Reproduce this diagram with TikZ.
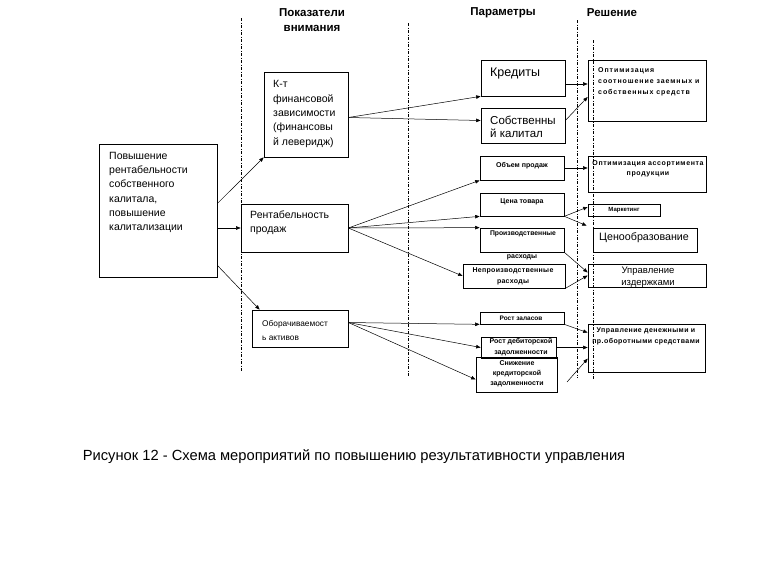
\documentclass[tikz,border=0pt]{standalone}
\usepackage{fontspec}
\setmainfont{Liberation Sans}
\usetikzlibrary{arrows.meta,fit,calc}
\newcommand\myfs[2]{\fontsize{#1}{#2}\selectfont}
\newcommand\lsp[1]{\addfontfeature{LetterSpace=#1}}
\begin{document}
\begin{tikzpicture}[x=1pt,y=-1pt,
  box/.style={draw, line width=0.7pt, inner sep=0pt},
  arr/.style={-{Triangle[length=4.5pt,width=3.5pt]}, line width=0.5pt},
  sepline/.style={line width=0.6pt, dash pattern=on 3pt off 1.5pt on 1pt off 1.5pt},
  t/.style={inner sep=0pt},
  small/.style={t, font=\bfseries\myfs{7}{10.5}, align=center},
]
\useasboundingbox (0,0) rectangle (781,581);

% separators
\draw[sepline] (241,18) -- (241,372);
\draw[sepline] (408,23) -- (408,377);
\draw[sepline] (577,20) -- (577,378);
\draw[sepline] (593,40) -- (593,380);

% headers
\node[t, font=\bfseries\myfs{11.5}{15}, align=center] (h1) at (312,20.5) {Показатели\\внимания};
\node[t, font=\bfseries\myfs{11.5}{15}] (h2) at (503,13) {Параметры};
\node[t, font=\bfseries\myfs{11.5}{15}] (h3) at (612,13) {Решение};

% boxes
\node[box, fit={(99,144)(217,277)}] (main) {};
\node[box, fit={(264,72)(348,157)}] (kt) {};
\node[box, fit={(241,204)(348,252)}] (rent) {};
\node[box, fit={(252,310)(348,347)}] (obor) {};
\node[box, fit={(481,60)(565,96)}] (kred) {};
\node[box, fit={(481,108)(565,143)}] (sobst) {};
\node[box, fit={(480,156)(564,180)}] (obem) {};
\node[box, fit={(480,193)(564,216)}] (cena) {};
\node[box, fit={(480,228)(564,252)}] (proizv) {};
\node[box, fit={(463,264)(565,288)}] (neproizv) {};
\node[box, fit={(480,312)(564,324)}] (zapas) {};
\node[box, fit={(481,337)(556,358)}] (debit) {};
\node[box, fit={(476,357)(557,392)}] (snizh) {};
\node[box, fit={(588,60)(706,121)}] (opt1) {};
\node[box, fit={(588,156)(706,192)}] (opt2) {};
\node[box, fit={(588,204)(660,216)}] (mark) {};
\node[box, fit={(593,228)(697,252)}] (cenoobr) {};
\node[box, fit={(588,264)(706,287)}] (upriz) {};
\node[box, fit={(588,324)(705,372)}] (updeng) {};

% texts
\node[t, anchor=west, align=left, font=\myfs{10.5}{14.2}] (mainT) at (109,192.5) {Повышение\\рентабельности\\собственного\\калитала,\\повышение\\калитализации};
\node[t, anchor=west, align=left, font=\myfs{10.5}{14.4}] (ktT) at (273,114) {К-т\\финансовой\\зависимости\\(финансовы\\й леверидж)};
\node[t, anchor=west, align=left, font=\myfs{10.5}{14}] (rentT) at (250,223) {Рентабельность\\продаж};
\node[t, anchor=west, align=left, font=\myfs{8.3}{14}] (oborT) at (262,330) {Оборачиваемост\\ь активов};
\node[t, anchor=west, font=\myfs{12.5}{14}] (kredT) at (490,73) {Кредиты};
\node[t, anchor=west, align=left, font=\myfs{11.5}{13.5}] (sobstT) at (490,127) {Собственны\\й калитал};
\node[small] (obemT) at (522,166) {Объем продаж};
\node[small] (cenaT) at (522,202) {Цена товара};
\node[small, font=\bfseries\myfs{6.8}{10}] (proizvT) at (523,234) {Производственные};
\node[small] (proizvT2) at (522,257) {расходы};
\node[small, font=\bfseries\myfs{7}{11}\lsp{4}] (neproizvT) at (513,276.5) {Непроизводственные\\расходы};
\node[small, font=\bfseries\myfs{6.5}{10}] (zapasT) at (521,318) {Рост заласов};
\node[small, font=\bfseries\myfs{7}{11}] (debitT) at (521,347.5) {Рост дебиторской\\задолженности};
\node[small, font=\bfseries\myfs{7}{10}] (snizhT) at (517,374) {Снижение\\кредиторской\\задолженности};
\node[t, anchor=west, align=left, font=\bfseries\myfs{7}{11}\lsp{13}] (opt1T) at (598,81.5) {Оптимизация\\соотношение заемных и\\собственных средств};
\node[small, font=\bfseries\myfs{7}{10}\lsp{9}] (opt2T) at (648,168.5) {Оптимизация ассортимента\\продукции};
\node[small, font=\bfseries\myfs{6}{10}] (markT) at (624,210) {Маркетинг};
\node[t, anchor=west, font=\myfs{10.7}{13}] (cenoobrT) at (599,238) {Ценообразование};
\node[t, align=center, font=\myfs{9.5}{12}] (uprizT) at (648,277.5) {Управление\\издержками};
\node[small, font=\bfseries\myfs{7}{11}\lsp{6}] (updengT) at (646,336) {Управление денежными и\\пр.оборотными средствами};

\node[t, font=\myfs{14.7}{16}] (caption) at (354,457) {Рисунок 12 - Схема мероприятий по повышению результативности управления};

% connectors
\draw[arr] ([yshift=7pt]main.east) -- (kt.south west);
\draw[arr] (main.east |- rent.west) -- (rent.west);
\draw[arr] ([yshift=12pt]main.south east) -- ([xshift=8pt]obor.north west);

\draw[arr] ([yshift=-3pt]kt.east) -- (kred.south west);
\draw[arr] ([yshift=-3pt]kt.east) -- ([yshift=5pt]sobst.west);

\draw[arr] (rent.east) -- (obem.south west);
\draw[arr] (rent.east) -- (cena.south west);
\draw[arr] (rent.east) -- (proizv.north west);
\draw[arr] (rent.east) -- (neproizv.west);

\coordinate (kredout) at ([yshift=-6pt]kred.east);
\draw[arr] (kredout) -- (opt1.west |- kredout);
\draw[arr] ([yshift=5pt]sobst.east) -- ([yshift=-6.5pt]opt1.west);
\draw[arr] (obem.east) -- (opt2.west |- obem.east);
\draw[arr] (cena.south east) -- ([yshift=3pt]mark.west);
\draw[arr] (cena.south east) -- ([shift={(-6pt,2pt)}]cenoobr.north west);
\draw[arr] (proizv.south east) -- ([yshift=3pt]upriz.west);
\draw[arr] (neproizv.south east) -- (upriz.west);

\draw[arr] ([yshift=6pt]obor.east) -- (zapas.south west);
\draw[arr] ([yshift=6pt]obor.east) -- (debit.west);
\draw[arr] ([yshift=6pt]obor.east) -- ([yshift=-5pt]snizh.west);

\draw[arr] (zapas.south east) -- ([yshift=-9pt]updeng.north west);
\draw[arr] (debit.east) -- (updeng.west |- debit.east);
\coordinate (c15) at (567,382);
\draw[arr] (c15) -- ([yshift=-35pt]updeng.north west);
\end{tikzpicture}
\end{document}
